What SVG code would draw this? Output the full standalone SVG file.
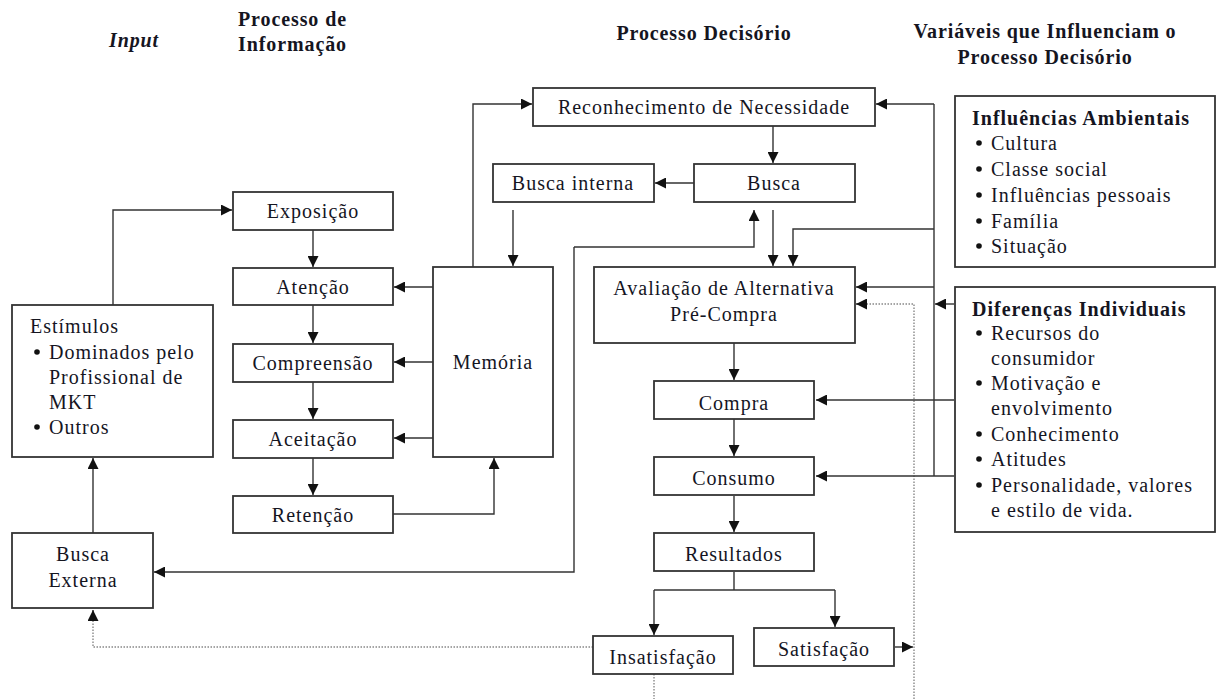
<svg xmlns="http://www.w3.org/2000/svg" width="1216" height="699" viewBox="0 0 1216 699">
<style>
text{font-family:"Liberation Serif","Times New Roman",serif;font-size:20px;letter-spacing:1px;fill:#15151f}
.c{text-anchor:middle}
.h{font-weight:bold;font-size:20px;letter-spacing:0.9px}
.b{font-weight:bold}
rect{fill:#fff;stroke:#333;stroke-width:1.8}
.ln{fill:none;stroke:#333;stroke-width:1.4}
.dt{fill:none;stroke:#888;stroke-width:1.4;stroke-dasharray:1.5 1.5}
.bul{fill:#111}
</style>
<defs>
<marker id="ar" markerUnits="userSpaceOnUse" markerWidth="12" markerHeight="11" refX="11" refY="5.5" orient="auto">
<path d="M0,0 L11,5.5 L0,11 z" fill="#111"/>
</marker>
</defs>
<rect x="0" y="0" width="1216" height="699" style="fill:#fff;stroke:none"/>
<g id="headers">
<text class="h c" x="134" y="47" style="font-style:italic">Input</text>
<text class="h" x="238" y="26">Processo de</text>
<text class="h" x="238" y="51">Informação</text>
<text class="h c" x="704" y="40">Processo Decisório</text>
<text class="h c" x="1045" y="38">Variáveis que Influenciam o</text>
<text class="h c" x="1045" y="64">Processo Decisório</text>
</g>
<g id="connectors">
<path class="ln" d="M473 267 V104 H532" marker-end="url(#ar)"/>
<path class="ln" d="M934 104 V476"/>
<path class="ln" d="M934 104 H876" marker-end="url(#ar)"/>
<path class="ln" d="M773 126 V163" marker-end="url(#ar)"/>
<path class="ln" d="M694 183 H655" marker-end="url(#ar)"/>
<path class="ln" d="M513 210 V266" marker-end="url(#ar)"/>
<path class="ln" d="M574 247 H754 V210" marker-end="url(#ar)"/>
<path class="ln" d="M574 247 V572 H154" marker-end="url(#ar)"/>
<path class="ln" d="M773 210 V266" marker-end="url(#ar)"/>
<path class="ln" d="M934 229 H793 V266" marker-end="url(#ar)"/>
<path class="ln" d="M934 287 H856" marker-end="url(#ar)"/>
<path class="dt" d="M914 699 V304 H866"/>
<path class="ln" d="M866 304 H856" marker-end="url(#ar)"/>
<path class="ln" d="M954 304 H935" marker-end="url(#ar)"/>
<path class="ln" d="M954 400 H816" marker-end="url(#ar)"/>
<path class="ln" d="M954 476 H816" marker-end="url(#ar)"/>
<path class="ln" d="M734 343 V380" marker-end="url(#ar)"/>
<path class="ln" d="M734 419 V456" marker-end="url(#ar)"/>
<path class="ln" d="M734 496 V532" marker-end="url(#ar)"/>
<path class="ln" d="M734 572 V590"/>
<path class="ln" d="M654 590 H835"/>
<path class="ln" d="M654 590 V635" marker-end="url(#ar)"/>
<path class="ln" d="M835 590 V627" marker-end="url(#ar)"/>
<path class="ln" d="M895 647 H913" marker-end="url(#ar)"/>
<path class="dt" d="M593 647 H93 V620"/>
<path class="ln" d="M93 621 V610" marker-end="url(#ar)"/>
<path class="dt" d="M654 674 V699"/>
<path class="ln" d="M113 305 V210 H232" marker-end="url(#ar)"/>
<path class="ln" d="M313 230 V267" marker-end="url(#ar)"/>
<path class="ln" d="M313 305 V343" marker-end="url(#ar)"/>
<path class="ln" d="M313 382 V419" marker-end="url(#ar)"/>
<path class="ln" d="M313 458 V495" marker-end="url(#ar)"/>
<path class="ln" d="M433 287 H394" marker-end="url(#ar)"/>
<path class="ln" d="M433 362 H394" marker-end="url(#ar)"/>
<path class="ln" d="M433 438 H394" marker-end="url(#ar)"/>
<path class="ln" d="M393 514 H494 V458" marker-end="url(#ar)"/>
<path class="ln" d="M93 533 V458" marker-end="url(#ar)"/>
</g>
<g id="reconhecimento"><rect x="533" y="88" width="342" height="38"/><text class="c" x="704" y="114">Reconhecimento de Necessidade</text></g>
<g id="busca-interna"><rect x="493" y="164" width="161" height="38"/><text class="c" x="573" y="190">Busca interna</text></g>
<g id="busca"><rect x="694" y="164" width="161" height="38"/><text class="c" x="774" y="190">Busca</text></g>
<g id="exposicao"><rect x="233" y="192" width="160" height="38"/><text class="c" x="313" y="218">Exposição</text></g>
<g id="atencao"><rect x="233" y="268" width="160" height="37"/><text class="c" x="313" y="294">Atenção</text></g>
<g id="compreensao"><rect x="233" y="344" width="160" height="38"/><text class="c" x="313" y="370">Compreensão</text></g>
<g id="aceitacao"><rect x="233" y="420" width="160" height="38"/><text class="c" x="313" y="446">Aceitação</text></g>
<g id="retencao"><rect x="233" y="496" width="160" height="37"/><text class="c" x="313" y="522">Retenção</text></g>
<g id="memoria"><rect x="433" y="267" width="120" height="190"/><text class="c" x="493" y="369">Memória</text></g>
<g id="estimulos"><rect x="12" y="305" width="201" height="152"/>
<text x="30" y="333">Estímulos</text>
<circle class="bul" cx="37" cy="352" r="2.8"/><text x="49" y="359">Dominados pelo</text>
<text x="49" y="384">Profissional de</text>
<text x="49" y="409">MKT</text>
<circle class="bul" cx="37" cy="427" r="2.8"/><text x="49" y="434">Outros</text>
</g>
<g id="busca-externa"><rect x="12" y="533" width="141" height="75"/><text class="c" x="83" y="561">Busca</text><text class="c" x="83" y="587">Externa</text></g>
<g id="avaliacao"><rect x="594" y="267" width="261" height="76"/><text class="c" x="724" y="295">Avaliação de Alternativa</text><text class="c" x="724" y="321">Pré-Compra</text></g>
<g id="compra"><rect x="654" y="381" width="160" height="38"/><text class="c" x="734" y="410">Compra</text></g>
<g id="consumo"><rect x="654" y="457" width="160" height="38"/><text class="c" x="734" y="485">Consumo</text></g>
<g id="resultados"><rect x="654" y="533" width="160" height="38"/><text class="c" x="734" y="561">Resultados</text></g>
<g id="insatisfacao"><rect x="593" y="636" width="140" height="38"/><text class="c" x="663" y="664">Insatisfação</text></g>
<g id="satisfacao"><rect x="754" y="628" width="140" height="38"/><text class="c" x="824" y="656">Satisfação</text></g>
<g id="influencias"><rect x="955" y="96" width="260" height="171"/>
<text class="b" x="972" y="125">Influências Ambientais</text>
<circle class="bul" cx="979" cy="143" r="2.8"/><text x="991" y="150">Cultura</text>
<circle class="bul" cx="979" cy="169" r="2.8"/><text x="991" y="176">Classe social</text>
<circle class="bul" cx="979" cy="195" r="2.8"/><text x="991" y="202">Influências pessoais</text>
<circle class="bul" cx="979" cy="221" r="2.8"/><text x="991" y="228">Família</text>
<circle class="bul" cx="979" cy="246" r="2.8"/><text x="991" y="253">Situação</text>
</g>
<g id="diferencas"><rect x="955" y="287" width="260" height="245"/>
<text class="b" x="972" y="316">Diferenças Individuais</text>
<circle class="bul" cx="979" cy="333" r="2.8"/><text x="991" y="340">Recursos do</text>
<text x="991" y="365">consumidor</text>
<circle class="bul" cx="979" cy="383" r="2.8"/><text x="991" y="390">Motivação e</text>
<text x="991" y="415">envolvimento</text>
<circle class="bul" cx="979" cy="434" r="2.8"/><text x="991" y="441">Conhecimento</text>
<circle class="bul" cx="979" cy="459" r="2.8"/><text x="991" y="466">Atitudes</text>
<circle class="bul" cx="979" cy="485" r="2.8"/><text x="991" y="492">Personalidade, valores</text>
<text x="991" y="517">e estilo de vida.</text>
</g>
</svg>
